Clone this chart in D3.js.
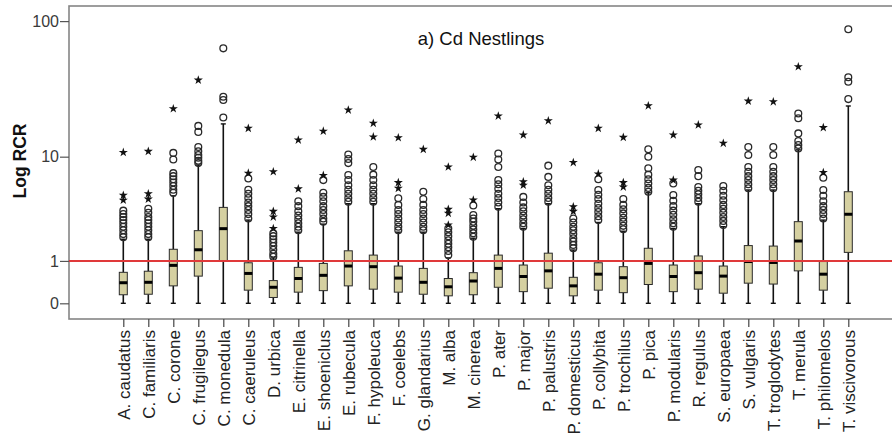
<!DOCTYPE html>
<html>
<head>
<meta charset="utf-8">
<script src="https://cdn.jsdelivr.net/npm/d3@7"></script>
<style>
  html, body { margin: 0; padding: 0; background: #fff; }
  svg { display: block; font-family: "Liberation Sans", Arial, sans-serif; }
</style>
</head>
<body>
<svg id="chart" width="892" height="442"></svg>
<script>
const categories = ["A. caudatus","C. familiaris","C. corone","C. frugilegus","C. monedula","C. caeruleus","D. urbica","E. citrinella","E. shoeniclus","E. rubecula","F. hypoleuca","F. coelebs","G. glandarius","M. alba","M. cinerea","P. ater","P. major","P. palustris","P. domesticus","P. collybita","P. trochilus","P. pica","P. modularis","R. regulus","S. europaea","S. vulgaris","T. troglodytes","T. merula","T. philomelos","T. viscivorous"];

const whiskerLow = [0,0,0,0,0,0,0,0,0,0,0,0,0,0,0,0,0,0,0,0,0,0,0,0,0,0,0,0,0,0];
const q1     = [0.15,0.16,0.33,0.56,1.0,0.24,0.10,0.20,0.23,0.33,0.26,0.20,0.16,0.13,0.15,0.30,0.21,0.28,0.13,0.24,0.19,0.36,0.21,0.26,0.18,0.39,0.37,0.70,0.24,1.30];
const median = [0.40,0.41,0.86,1.40,2.39,0.63,0.30,0.50,0.58,0.84,0.82,0.51,0.41,0.31,0.44,0.77,0.55,0.70,0.33,0.61,0.52,0.92,0.55,0.65,0.56,0.98,0.95,1.77,0.61,3.29];
const q3     = [0.66,0.69,1.42,2.28,3.8,0.94,0.45,0.80,0.92,1.36,1.2,0.84,0.77,0.50,0.65,1.2,0.87,1.27,0.53,0.94,0.82,1.46,0.87,1.17,0.84,1.57,1.55,2.8,0.98,5.2];
const whiskerHigh = [1.85,1.85,4.8,8.6,17.8,2.9,1.1,2.2,2.65,4.1,4.1,2.2,2.2,1.1,1.9,3.7,2.4,4.1,1.39,2.75,2.25,5.1,2.4,4.1,2.5,5.38,5.38,11.3,2.9,24.2];

const outliers = [
  [1.95,2.1,2.3,2.5,2.7,2.9,3.1,3.3,3.55],
  [1.95,2.1,2.3,2.5,2.7,2.9,3.1,3.4,3.7],
  [5.1,5.4,5.8,6.2,6.6,7.0,7.4,9.5,10.7],
  [8.9,9.3,9.8,10.3,11.0,11.9,15.5,17.2],
  [19.9,26.8,28.3,63.7],
  [3.0,3.3,3.6,3.9,4.2,4.6,5.0,5.4,6.7],
  [1.14,1.25,1.4,1.55,1.7,1.85,2.0,2.14],
  [2.3,2.5,2.7,2.95,3.2,3.5,3.9,4.3],
  [2.8,3.0,3.3,3.6,3.9,4.3,4.7,5.1,6.5],
  [4.27,4.6,5.0,5.4,5.9,6.5,7.15,8.9,9.6,10.4],
  [4.27,4.6,5.0,5.4,5.9,6.5,7.2,8.3],
  [2.3,2.5,2.75,3.0,3.3,3.6,4.0,4.57],
  [2.3,2.5,2.75,3.0,3.3,3.6,4.0,4.5,5.2],
  [1.2,1.35,1.5,1.65,1.8,2.0,2.2,2.4],
  [1.97,2.15,2.35,2.55,2.8,3.0,3.24,3.95],
  [3.85,4.2,4.6,5.0,5.5,6.0,6.5,8.3,9.5,10.6],
  [2.5,2.7,2.95,3.2,3.5,3.8,4.2,4.7],
  [4.27,4.6,5.0,5.4,5.9,6.9,8.5],
  [1.46,1.6,1.75,1.9,2.1,2.3,2.5,2.75,3.0],
  [2.9,3.15,3.45,3.75,4.1,4.5,4.9,5.38,6.6],
  [2.36,2.55,2.8,3.05,3.35,3.65,4.0,4.5],
  [5.2,5.6,6.1,6.6,7.2,8.1,10.0,11.4],
  [2.5,2.7,2.95,3.25,3.55,3.9,4.35,4.87,6.1],
  [4.27,4.6,4.95,5.3,5.7,7.0,7.85],
  [2.6,2.85,3.1,3.4,3.7,4.0,4.4,4.8,5.3,5.8],
  [5.56,6.0,6.5,7.0,7.6,8.3,10.3,11.9],
  [5.56,6.0,6.5,7.0,7.6,8.3,10.3,11.9],
  [11.6,12.3,13.2,15.1,19.6,21.3],
  [3.0,3.3,3.6,3.9,4.3,4.8,5.38,6.8],
  [27.2,36.5,39.3,87.3]
];

const extremes = [
  [4.4,4.85,10.8],
  [4.5,5.0,11.0],
  [23.1],
  [37.5],
  [],
  [7.4,16.5],
  [2.4,3.1,3.5,7.6],
  [5.5,13.45],
  [7.1,15.7],
  [22.6],
  [14.2,18.0],
  [5.56,6.2,14.0],
  [11.4],
  [2.6,3.36,3.65,8.3],
  [4.42,9.9],
  [20.4],
  [5.9,6.3,14.7],
  [18.8],
  [3.5,3.85,9.0],
  [7.3,16.5],
  [5.7,6.2,14.1],
  [24.3],
  [6.5,14.7],
  [17.5],
  [12.7],
  [26.3],
  [26.0],
  [46.9],
  [7.5,16.7],
  []
];

const yTicks = [0, 1, 10, 100];
const referenceValue = 1;
const titleText = "a) Cd Nestlings";
const yLabel = "Log RCR";

const svg = d3.select("#chart");
const frame = {left: 69, top: 6, right: 906, bottom: 319};

const x = d3.scalePoint().domain(categories).range([123.3, 848.3]);
const y = d3.scaleSymlog().constant(1).domain([-0.2926, 128.3]).range([frame.bottom, frame.top]);

// frame
svg.append("rect")
  .attr("x", frame.left).attr("y", frame.top)
  .attr("width", frame.right - frame.left).attr("height", frame.bottom - frame.top)
  .attr("fill", "none").attr("stroke", "#858585").attr("stroke-width", 1.6);

// y axis
const yAxis = svg.append("g")
  .attr("transform", `translate(${frame.left},0)`)
  .call(d3.axisLeft(y).tickValues(yTicks).tickSize(9).tickPadding(1).tickFormat(d3.format("d")));
yAxis.select(".domain").remove();
yAxis.selectAll(".tick line").attr("stroke", "#555").attr("stroke-width", 1.2);
yAxis.selectAll(".tick text").attr("fill", "#3a3a3a").style("font-size", "16px")
  .style("font-family", "'Liberation Sans', Arial, sans-serif");

// x axis
const xAxis = svg.append("g")
  .attr("transform", `translate(0,${frame.bottom})`)
  .call(d3.axisBottom(x).tickSize(8).tickPadding(3));
xAxis.select(".domain").remove();
xAxis.selectAll(".tick line").attr("stroke", "#444").attr("stroke-width", 1.2);
xAxis.selectAll(".tick text")
  .attr("transform", "rotate(-90)")
  .attr("x", -11).attr("y", 0).attr("dy", "0.36em")
  .style("text-anchor", "end")
  .attr("fill", "#222")
  .style("font-size", "17px")
  .style("font-family", "'Liberation Sans', Arial, sans-serif");

// y label
svg.append("text")
  .attr("transform", `translate(20,161) rotate(-90)`)
  .attr("text-anchor", "middle").attr("dy", "0.35em")
  .style("font-size", "17.5px").style("font-weight", "bold").attr("fill", "#111")
  .text(yLabel);

// title
svg.append("text")
  .attr("x", 481).attr("y", 45)
  .attr("text-anchor", "middle")
  .style("font-size", "18.5px").attr("fill", "#111")
  .text(titleText);

// boxes
const bw = 8, cap = 2.5;
const g = svg.append("g");
categories.forEach((c, i) => {
  const cx = x(c);
  const gg = g.append("g");
  // lower whisker
  gg.append("line").attr("x1", cx).attr("x2", cx).attr("y1", y(whiskerLow[i])).attr("y2", y(q1[i]))
    .attr("stroke", "#111").attr("stroke-width", 1.6);
  gg.append("line").attr("x1", cx - cap).attr("x2", cx + cap).attr("y1", y(whiskerLow[i])).attr("y2", y(whiskerLow[i]))
    .attr("stroke", "#111").attr("stroke-width", 1.4);
  // upper whisker
  gg.append("line").attr("x1", cx).attr("x2", cx).attr("y1", y(q3[i])).attr("y2", y(whiskerHigh[i]))
    .attr("stroke", "#111").attr("stroke-width", 1.6);
  gg.append("line").attr("x1", cx - cap).attr("x2", cx + cap).attr("y1", y(whiskerHigh[i])).attr("y2", y(whiskerHigh[i]))
    .attr("stroke", "#111").attr("stroke-width", 1.4);
  // box
  gg.append("rect").attr("x", cx - bw / 2).attr("width", bw)
    .attr("y", y(q3[i])).attr("height", y(q1[i]) - y(q3[i]))
    .attr("fill", "#d5d0a1").attr("stroke", "#2a2a2a").attr("stroke-width", 1);
  // median
  gg.append("line").attr("x1", cx - bw / 2).attr("x2", cx + bw / 2).attr("y1", y(median[i])).attr("y2", y(median[i]))
    .attr("stroke", "#000").attr("stroke-width", 3);
  // outliers
  gg.selectAll("circle").data(outliers[i]).join("circle")
    .attr("cx", cx).attr("cy", d => y(d)).attr("r", 3.4)
    .attr("fill", "none").attr("stroke", "#2a2a2a").attr("stroke-width", 1.3);
  // extremes
  gg.selectAll("path.star").data(extremes[i]).join("path").attr("class", "star")
    .attr("transform", d => `translate(${cx},${y(d)})`)
    .attr("d", d3.symbol(d3.symbolStar, 26))
    .attr("fill", "#111");
});

// reference line
svg.append("line")
  .attr("x1", frame.left).attr("x2", 892)
  .attr("y1", y(referenceValue)).attr("y2", y(referenceValue))
  .attr("stroke", "#e0393a").attr("stroke-width", 2);
</script>
</body>
</html>
